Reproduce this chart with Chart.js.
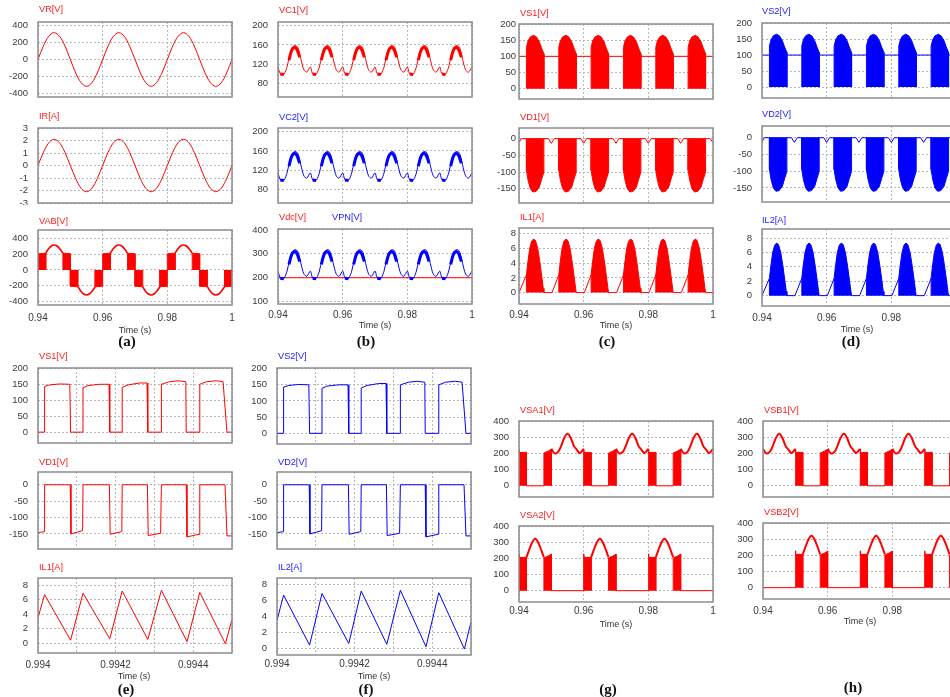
<!DOCTYPE html>
<html>
<head>
<meta charset="utf-8">
<script src="https://cdn.jsdelivr.net/npm/chart.js@4.4.0/dist/chart.umd.min.js"></script>
<style>
html, body { margin: 0; padding: 0; background: #fff; overflow: hidden; }
body { width: 950px; height: 697px; position: relative; }
canvas { position: absolute; }
.ttl { position: absolute; font: 9.2px "Liberation Sans", Arial, sans-serif; white-space: nowrap; line-height: 1; transform: translateY(-50%); }
.xt { position: absolute; font: 9px "Liberation Sans", Arial, sans-serif; color: #333; white-space: nowrap; line-height: 1; transform: translate(-50%, -50%); }
.pl { position: absolute; font: bold 15px "Liberation Serif", "Times New Roman", serif; color: #111; line-height: 1; transform: translate(-50%, -50%); }
</style>
</head>
<body>
<script>
// ---- tick values / labels
const tickA = [0.94, 0.96, 0.98, 1];
const tickLabA = ['0.94', '0.96', '0.98', '1'];
const tickE = [0.994, 0.9941, 0.9942, 0.9943, 0.9944, 0.9945];
const tickLabE = ['0.994', '', '0.9942', '', '0.9944', ''];
const yVR = [-400, -200, 0, 200, 400];
const yIR = [-3, -2, -1, 0, 1, 2, 3];
const yVC = [80, 120, 160, 200];
const yVPN = [100, 200, 300, 400];
const yVS = [0, 50, 100, 150, 200];
const yVD = [-150, -100, -50, 0];
const yIL = [0, 2, 4, 6, 8];
const yVSA = [0, 100, 200, 300, 400];

// ---- (a) grid voltage / current, 0.94 .. 1 s
const tSine = [0.94, 0.941667, 0.943333, 0.945, 0.946667, 0.948333,
  0.95, 0.951667, 0.953333, 0.955, 0.956667, 0.958333,
  0.96, 0.961667, 0.963333, 0.965, 0.966667, 0.968333,
  0.97, 0.971667, 0.973333, 0.975, 0.976667, 0.978333,
  0.98, 0.981667, 0.983333, 0.985, 0.986667, 0.988333,
  0.99, 0.991667, 0.993333, 0.995, 0.996667, 0.998333, 1.0];
const vrVals = [0, 158, 272, 315, 272, 158, 0, -158, -272, -315, -272, -158,
  0, 158, 272, 315, 272, 158, 0, -158, -272, -315, -272, -158,
  0, 158, 272, 315, 272, 158, 0, -158, -272, -315, -272, -158, 0];
const irVals = [0, 1.05, 1.82, 2.1, 1.82, 1.05, 0, -1.05, -1.82, -2.1, -1.82, -1.05,
  0, 1.05, 1.82, 2.1, 1.82, 1.05, 0, -1.05, -1.82, -2.1, -1.82, -1.05,
  0, 1.05, 1.82, 2.1, 1.82, 1.05, 0, -1.05, -1.82, -2.1, -1.82, -1.05, 0];

const vabBlocks = [
  [0.94, 0], [0.94, 205], [0.9424, 212], [0.9424, 0], [0.9424, null],
  [0.9477, 0], [0.9477, 212], [0.95, 205], [0.95, 0], [0.95, null],
  [0.95, 0], [0.95, -205], [0.9524, -212], [0.9524, 0], [0.9524, null],
  [0.9577, 0], [0.9577, -212], [0.96, -205], [0.96, 0], [0.96, null],
  [0.96, 0], [0.96, 205], [0.9624, 212], [0.9624, 0], [0.9624, null],
  [0.9677, 0], [0.9677, 212], [0.97, 205], [0.97, 0], [0.97, null],
  [0.97, 0], [0.97, -205], [0.9724, -212], [0.9724, 0], [0.9724, null],
  [0.9777, 0], [0.9777, -212], [0.98, -205], [0.98, 0], [0.98, null],
  [0.98, 0], [0.98, 205], [0.9824, 212], [0.9824, 0], [0.9824, null],
  [0.9877, 0], [0.9877, 212], [0.99, 205], [0.99, 0], [0.99, null],
  [0.99, 0], [0.99, -205], [0.9924, -212], [0.9924, 0], [0.9924, null],
  [0.9977, 0], [0.9977, -212], [1.0, -205], [1.0, 0]
];
const vabArcs = [
  [0.9424, 212], [0.9431, 258], [0.9440, 300], [0.9450, 316], [0.9460, 300], [0.9469, 258], [0.9477, 212], [0.9477, null],
  [0.9524, -212], [0.9531, -258], [0.9540, -300], [0.9550, -316], [0.9560, -300], [0.9569, -258], [0.9577, -212], [0.9577, null],
  [0.9624, 212], [0.9631, 258], [0.9640, 300], [0.9650, 316], [0.9660, 300], [0.9669, 258], [0.9677, 212], [0.9677, null],
  [0.9724, -212], [0.9731, -258], [0.9740, -300], [0.9750, -316], [0.9760, -300], [0.9769, -258], [0.9777, -212], [0.9777, null],
  [0.9824, 212], [0.9831, 258], [0.9840, 300], [0.9850, 316], [0.9860, 300], [0.9869, 258], [0.9877, 212], [0.9877, null],
  [0.9924, -212], [0.9931, -258], [0.9940, -300], [0.9950, -316], [0.9960, -300], [0.9969, -258], [0.9977, -212]
];

// ---- (b) capacitor voltages
const vcWave = [
  [0.9400, 114], [0.9406, 101], [0.9412, 98], [0.9419, 99], [0.9428, 114], [0.9436, 138], [0.9445, 155], [0.9455, 159], [0.9463, 152], [0.9471, 130], [0.9480, 108], [0.9489, 103],
  [0.9500, 114], [0.9506, 101], [0.9512, 98], [0.9519, 99], [0.9528, 114], [0.9536, 138], [0.9545, 155], [0.9555, 159], [0.9563, 152], [0.9571, 130], [0.9580, 108], [0.9589, 103],
  [0.9600, 114], [0.9606, 101], [0.9612, 98], [0.9619, 99], [0.9628, 114], [0.9636, 138], [0.9645, 155], [0.9655, 159], [0.9663, 152], [0.9671, 130], [0.9680, 108], [0.9689, 103],
  [0.9700, 114], [0.9706, 101], [0.9712, 98], [0.9719, 99], [0.9728, 114], [0.9736, 138], [0.9745, 155], [0.9755, 159], [0.9763, 152], [0.9771, 130], [0.9780, 108], [0.9789, 103],
  [0.9800, 114], [0.9806, 101], [0.9812, 98], [0.9819, 99], [0.9828, 114], [0.9836, 138], [0.9845, 155], [0.9855, 159], [0.9863, 152], [0.9871, 130], [0.9880, 108], [0.9889, 103],
  [0.9900, 114], [0.9906, 101], [0.9912, 98], [0.9919, 99], [0.9928, 114], [0.9936, 138], [0.9945, 155], [0.9955, 159], [0.9963, 152], [0.9971, 130], [0.9980, 108], [0.9989, 103],
  [1.0000, 114]
];
const vcRipple = [
  [0.9407, 99], [0.9418, 98], [0.9418, null], [0.9434, 128], [0.9442, 148], [0.9451, 155], [0.9459, 150], [0.9467, 134], [0.9467, null],
  [0.9507, 99], [0.9518, 98], [0.9518, null], [0.9534, 128], [0.9542, 148], [0.9551, 155], [0.9559, 150], [0.9567, 134], [0.9567, null],
  [0.9607, 99], [0.9618, 98], [0.9618, null], [0.9634, 128], [0.9642, 148], [0.9651, 155], [0.9659, 150], [0.9667, 134], [0.9667, null],
  [0.9707, 99], [0.9718, 98], [0.9718, null], [0.9734, 128], [0.9742, 148], [0.9751, 155], [0.9759, 150], [0.9767, 134], [0.9767, null],
  [0.9807, 99], [0.9818, 98], [0.9818, null], [0.9834, 128], [0.9842, 148], [0.9851, 155], [0.9859, 150], [0.9867, 134], [0.9867, null],
  [0.9907, 99], [0.9918, 98], [0.9918, null], [0.9934, 128], [0.9942, 148], [0.9951, 155], [0.9959, 150], [0.9967, 134]
];
const vpnWave = [
  [0.9400, 228], [0.9406, 202], [0.9412, 196], [0.9419, 198], [0.9428, 228], [0.9436, 276], [0.9445, 310], [0.9455, 318], [0.9463, 304], [0.9471, 260], [0.9480, 216], [0.9489, 206],
  [0.9500, 228], [0.9506, 202], [0.9512, 196], [0.9519, 198], [0.9528, 228], [0.9536, 276], [0.9545, 310], [0.9555, 318], [0.9563, 304], [0.9571, 260], [0.9580, 216], [0.9589, 206],
  [0.9600, 228], [0.9606, 202], [0.9612, 196], [0.9619, 198], [0.9628, 228], [0.9636, 276], [0.9645, 310], [0.9655, 318], [0.9663, 304], [0.9671, 260], [0.9680, 216], [0.9689, 206],
  [0.9700, 228], [0.9706, 202], [0.9712, 196], [0.9719, 198], [0.9728, 228], [0.9736, 276], [0.9745, 310], [0.9755, 318], [0.9763, 304], [0.9771, 260], [0.9780, 216], [0.9789, 206],
  [0.9800, 228], [0.9806, 202], [0.9812, 196], [0.9819, 198], [0.9828, 228], [0.9836, 276], [0.9845, 310], [0.9855, 318], [0.9863, 304], [0.9871, 260], [0.9880, 216], [0.9889, 206],
  [0.9900, 228], [0.9906, 202], [0.9912, 196], [0.9919, 198], [0.9928, 228], [0.9936, 276], [0.9945, 310], [0.9955, 318], [0.9963, 304], [0.9971, 260], [0.9980, 216], [0.9989, 206],
  [1.0000, 228]
];
const vpnRipple = [
  [0.9407, 198], [0.9418, 196], [0.9418, null], [0.9434, 256], [0.9442, 296], [0.9451, 310], [0.9459, 300], [0.9467, 268], [0.9467, null],
  [0.9507, 198], [0.9518, 196], [0.9518, null], [0.9534, 256], [0.9542, 296], [0.9551, 310], [0.9559, 300], [0.9567, 268], [0.9567, null],
  [0.9607, 198], [0.9618, 196], [0.9618, null], [0.9634, 256], [0.9642, 296], [0.9651, 310], [0.9659, 300], [0.9667, 268], [0.9667, null],
  [0.9707, 198], [0.9718, 196], [0.9718, null], [0.9734, 256], [0.9742, 296], [0.9751, 310], [0.9759, 300], [0.9767, 268], [0.9767, null],
  [0.9807, 198], [0.9818, 196], [0.9818, null], [0.9834, 256], [0.9842, 296], [0.9851, 310], [0.9859, 300], [0.9867, 268], [0.9867, null],
  [0.9907, 198], [0.9918, 196], [0.9918, null], [0.9934, 256], [0.9942, 296], [0.9951, 310], [0.9959, 300], [0.9967, 268]
];
const vdcLine = [[0.94, 200], [1.0, 200]];

// ---- (c)/(d) switch, diode, inductor
const vsLine = [[0.94, 100], [1.0, 100]];
const vsBlocks = [
  [0.9423, 0], [0.9423, 128], [0.9428, 148], [0.9435, 160], [0.9445, 165], [0.9454, 160], [0.9463, 145], [0.9470, 125], [0.9477, 108], [0.9477, 0], [0.9477, null],
  [0.9523, 0], [0.9523, 128], [0.9528, 148], [0.9535, 160], [0.9545, 165], [0.9554, 160], [0.9563, 145], [0.9570, 125], [0.9577, 108], [0.9577, 0], [0.9577, null],
  [0.9623, 0], [0.9623, 128], [0.9628, 148], [0.9635, 160], [0.9645, 165], [0.9654, 160], [0.9663, 145], [0.9670, 125], [0.9677, 108], [0.9677, 0], [0.9677, null],
  [0.9723, 0], [0.9723, 128], [0.9728, 148], [0.9735, 160], [0.9745, 165], [0.9754, 160], [0.9763, 145], [0.9770, 125], [0.9777, 108], [0.9777, 0], [0.9777, null],
  [0.9823, 0], [0.9823, 128], [0.9828, 148], [0.9835, 160], [0.9845, 165], [0.9854, 160], [0.9863, 145], [0.9870, 125], [0.9877, 108], [0.9877, 0], [0.9877, null],
  [0.9923, 0], [0.9923, 128], [0.9928, 148], [0.9935, 160], [0.9945, 165], [0.9954, 160], [0.9963, 145], [0.9970, 125], [0.9977, 108], [0.9977, 0]
];
const vdLine = [[0.9400, -12], [0.9407, 0], [0.9491, 0], [0.9500, -14], [0.9509, 0], [0.9591, 0], [0.9600, -14], [0.9609, 0],
  [0.9691, 0], [0.9700, -14], [0.9709, 0], [0.9791, 0], [0.9800, -14], [0.9809, 0], [0.9891, 0], [0.9900, -14], [0.9909, 0],
  [0.9991, 0], [1.0, -12]];
const vdBlocks = [
  [0.9423, 0], [0.9423, -95], [0.9428, -125], [0.9435, -150], [0.9443, -160], [0.9453, -158], [0.9463, -145], [0.9470, -122], [0.9477, -100], [0.9477, 0], [0.9477, null],
  [0.9523, 0], [0.9523, -95], [0.9528, -125], [0.9535, -150], [0.9543, -160], [0.9553, -158], [0.9563, -145], [0.9570, -122], [0.9577, -100], [0.9577, 0], [0.9577, null],
  [0.9623, 0], [0.9623, -95], [0.9628, -125], [0.9635, -150], [0.9643, -160], [0.9653, -158], [0.9663, -145], [0.9670, -122], [0.9677, -100], [0.9677, 0], [0.9677, null],
  [0.9723, 0], [0.9723, -95], [0.9728, -125], [0.9735, -150], [0.9743, -160], [0.9753, -158], [0.9763, -145], [0.9770, -122], [0.9777, -100], [0.9777, 0], [0.9777, null],
  [0.9823, 0], [0.9823, -95], [0.9828, -125], [0.9835, -150], [0.9843, -160], [0.9853, -158], [0.9863, -145], [0.9870, -122], [0.9877, -100], [0.9877, 0], [0.9877, null],
  [0.9923, 0], [0.9923, -95], [0.9928, -125], [0.9935, -150], [0.9943, -160], [0.9953, -158], [0.9963, -145], [0.9970, -122], [0.9977, -100], [0.9977, 0]
];
const ilLine = [[0.9400, 0], [0.9403, 0], [0.9423, 2.4], [0.9423, null], [0.9477, 0], [0.9502, 0], [0.9523, 2.4], [0.9523, null],
  [0.9577, 0], [0.9602, 0], [0.9623, 2.4], [0.9623, null], [0.9677, 0], [0.9702, 0], [0.9723, 2.4], [0.9723, null],
  [0.9777, 0], [0.9802, 0], [0.9823, 2.4], [0.9823, null], [0.9877, 0], [0.9902, 0], [0.9923, 2.4], [0.9923, null],
  [0.9977, 0], [1.0, 0]];
const ilBlocks = [
  [0.9423, 0], [0.9423, 2.4], [0.9427, 4.0], [0.9433, 6.0], [0.9439, 7.0], [0.9445, 7.3], [0.9451, 7.1], [0.9458, 6.0], [0.9465, 4.0], [0.9471, 2.0], [0.9475, 0.6], [0.9477, 0], [0.9477, null],
  [0.9523, 0], [0.9523, 2.4], [0.9527, 4.0], [0.9533, 6.0], [0.9539, 7.0], [0.9545, 7.3], [0.9551, 7.1], [0.9558, 6.0], [0.9565, 4.0], [0.9571, 2.0], [0.9575, 0.6], [0.9577, 0], [0.9577, null],
  [0.9623, 0], [0.9623, 2.4], [0.9627, 4.0], [0.9633, 6.0], [0.9639, 7.0], [0.9645, 7.3], [0.9651, 7.1], [0.9658, 6.0], [0.9665, 4.0], [0.9671, 2.0], [0.9675, 0.6], [0.9677, 0], [0.9677, null],
  [0.9723, 0], [0.9723, 2.4], [0.9727, 4.0], [0.9733, 6.0], [0.9739, 7.0], [0.9745, 7.3], [0.9751, 7.1], [0.9758, 6.0], [0.9765, 4.0], [0.9771, 2.0], [0.9775, 0.6], [0.9777, 0], [0.9777, null],
  [0.9823, 0], [0.9823, 2.4], [0.9827, 4.0], [0.9833, 6.0], [0.9839, 7.0], [0.9845, 7.3], [0.9851, 7.1], [0.9858, 6.0], [0.9865, 4.0], [0.9871, 2.0], [0.9875, 0.6], [0.9877, 0], [0.9877, null],
  [0.9923, 0], [0.9923, 2.4], [0.9927, 4.0], [0.9933, 6.0], [0.9939, 7.0], [0.9945, 7.3], [0.9951, 7.1], [0.9958, 6.0], [0.9965, 4.0], [0.9971, 2.0], [0.9975, 0.6], [0.9977, 0]
];

// ---- (e)/(f) zoom on a few switching periods
const vsZoom = [
  [0.994000, 0], [0.994017, 0], [0.994017, 143], [0.994030, 148], [0.994056, 151], [0.994082, 150], [0.994084, 0],
  [0.994116, 0], [0.994116, 139], [0.994129, 146], [0.994159, 150], [0.994183, 150], [0.994185, 0],
  [0.994217, 0], [0.994217, 140], [0.994232, 148], [0.994262, 154], [0.994281, 154], [0.994283, 0],
  [0.994318, 0], [0.994318, 150], [0.994339, 158], [0.994361, 161], [0.994381, 158], [0.994382, 0],
  [0.994417, 0], [0.994417, 150], [0.994434, 158], [0.994460, 161], [0.994477, 158], [0.994487, 0], [0.994500, 0]
];
const vdZoom = [
  [0.994000, -146], [0.994017, -143], [0.994017, 0], [0.994083, 0], [0.994085, -150], [0.994115, -140], [0.994116, 0],
  [0.994184, 0], [0.994186, -151], [0.994216, -143], [0.994217, 0], [0.994282, 0], [0.994284, -155], [0.994316, -148],
  [0.994318, 0], [0.994382, 0], [0.994384, -159], [0.994415, -151], [0.994417, 0], [0.994482, 0], [0.994487, -156], [0.994500, -156]
];
const ilZoom = [
  [0.994000, 3.5], [0.994017, 6.7], [0.994084, 0.4], [0.994116, 6.9], [0.994185, 0.6], [0.994217, 7.2],
  [0.994283, 0.5], [0.994318, 7.3], [0.994384, 0.2], [0.994417, 7.0], [0.994483, -0.1], [0.994500, 3.3]
];

// ---- (g)/(h) module voltages
const vsaBlocks = [
  [0.94, 0], [0.94, 228], [0.9402, 206], [0.9423, 206], [0.9423, 0], [0.9423, null],
  [0.9477, 0], [0.9477, 202], [0.9490, 214], [0.95, 226], [0.95, 0], [0.95, null],
  [0.96, 0], [0.96, 228], [0.9602, 206], [0.9623, 206], [0.9623, 0], [0.9623, null],
  [0.9677, 0], [0.9677, 202], [0.9690, 214], [0.97, 226], [0.97, 0], [0.97, null],
  [0.98, 0], [0.98, 228], [0.9802, 206], [0.9823, 206], [0.9823, 0], [0.9823, null],
  [0.9877, 0], [0.9877, 202], [0.9890, 214], [0.99, 226], [0.99, 0]
];
const vsa1Zero = [[0.9423, 0], [0.9477, 0], [0.9477, null], [0.9623, 0], [0.9677, 0], [0.9677, null], [0.9823, 0], [0.9877, 0]];
const vsa1Arc = [
  [0.9500, 228], [0.9510, 200], [0.9521, 210], [0.9530, 245], [0.9540, 295], [0.9550, 321], [0.9560, 295], [0.9570, 245], [0.9578, 225], [0.9588, 202], [0.9600, 228], [0.9600, null],
  [0.9700, 228], [0.9710, 200], [0.9721, 210], [0.9730, 245], [0.9740, 295], [0.9750, 321], [0.9760, 295], [0.9770, 245], [0.9778, 225], [0.9788, 202], [0.9800, 228], [0.9800, null],
  [0.9900, 228], [0.9910, 200], [0.9921, 210], [0.9930, 245], [0.9940, 295], [0.9950, 321], [0.9960, 295], [0.9970, 245], [0.9978, 225], [0.9988, 202], [1.0000, 228]
];
const vsa2Arc = [
  [0.9423, 206], [0.9430, 245], [0.9440, 295], [0.9450, 321], [0.9460, 295], [0.9470, 245], [0.9477, 206], [0.9477, null],
  [0.9623, 206], [0.9630, 245], [0.9640, 295], [0.9650, 321], [0.9660, 295], [0.9670, 245], [0.9677, 206], [0.9677, null],
  [0.9823, 206], [0.9830, 245], [0.9840, 295], [0.9850, 321], [0.9860, 295], [0.9870, 245], [0.9877, 206]
];
const vsa2Zero = [[0.95, 0], [0.96, 0], [0.96, null], [0.97, 0], [0.98, 0], [0.98, null], [0.99, 0], [1.0, 0]];

const vsbBlocks = [
  [0.95, 0], [0.95, 228], [0.9502, 206], [0.9523, 206], [0.9523, 0], [0.9523, null],
  [0.9577, 0], [0.9577, 202], [0.9590, 214], [0.96, 226], [0.96, 0], [0.96, null],
  [0.97, 0], [0.97, 228], [0.9702, 206], [0.9723, 206], [0.9723, 0], [0.9723, null],
  [0.9777, 0], [0.9777, 202], [0.9790, 214], [0.98, 226], [0.98, 0], [0.98, null],
  [0.99, 0], [0.99, 228], [0.9902, 206], [0.9923, 206], [0.9923, 0], [0.9923, null],
  [0.9977, 0], [0.9977, 202], [0.9990, 214], [1.0, 226], [1.0, 0]
];
const vsb1Zero = [[0.9523, 0], [0.9577, 0], [0.9577, null], [0.9723, 0], [0.9777, 0], [0.9777, null], [0.9923, 0], [0.9977, 0]];
const vsb1Arc = [
  [0.9400, 228], [0.9410, 200], [0.9421, 210], [0.9430, 245], [0.9440, 295], [0.9450, 321], [0.9460, 295], [0.9470, 245], [0.9478, 225], [0.9488, 202], [0.9500, 228], [0.9500, null],
  [0.9600, 228], [0.9610, 200], [0.9621, 210], [0.9630, 245], [0.9640, 295], [0.9650, 321], [0.9660, 295], [0.9670, 245], [0.9678, 225], [0.9688, 202], [0.9700, 228], [0.9700, null],
  [0.9800, 228], [0.9810, 200], [0.9821, 210], [0.9830, 245], [0.9840, 295], [0.9850, 321], [0.9860, 295], [0.9870, 245], [0.9878, 225], [0.9888, 202], [0.9900, 228]
];
const vsb2Arc = [
  [0.9523, 206], [0.9530, 245], [0.9540, 295], [0.9550, 321], [0.9560, 295], [0.9570, 245], [0.9577, 206], [0.9577, null],
  [0.9723, 206], [0.9730, 245], [0.9740, 295], [0.9750, 321], [0.9760, 295], [0.9770, 245], [0.9777, 206], [0.9777, null],
  [0.9923, 206], [0.9930, 245], [0.9940, 295], [0.9950, 321], [0.9960, 295], [0.9970, 245], [0.9977, 206]
];
const vsb2Zero = [[0.94, 0], [0.95, 0], [0.95, null], [0.96, 0], [0.97, 0], [0.97, null], [0.98, 0], [0.99, 0]];

// ---- drawing
const RED = '#ff0000', BLUE = '#0000ff';
const TXT = '#3a3a3a';
const FONT = '"Liberation Sans", Arial, sans-serif';

const frame = {
  id: 'frame',
  afterDraw(chart) {
    const a = chart.chartArea, ctx = chart.ctx;
    ctx.save();
    ctx.strokeStyle = '#8c8c8c';
    ctx.lineWidth = 1.5;
    ctx.strokeRect(a.left, a.top, a.right - a.left, a.bottom - a.top);
    ctx.restore();
  }
};

function pts(a) {
  return a.map(p => ({x: p[0], y: p[1]}));
}
function trace(a, color, width, tension) {
  return {data: pts(a), borderColor: color, borderWidth: width, tension: tension || 0,
    fill: false, pointRadius: 0, spanGaps: false};
}
function blocks(a, color) {
  return {data: pts(a), borderColor: color, backgroundColor: color, borderWidth: 1, tension: 0,
    fill: 'origin', pointRadius: 0, spanGaps: false};
}

function plot(o) {
  const yW = 46, padT = 8, padR = 10, xH = o.xl ? 26 : 2;
  const cv = document.createElement('canvas');
  cv.width = Math.round(yW + o.w + padR);
  cv.height = Math.round(padT + o.h + xH);
  cv.style.left = (o.l - yW) + 'px';
  cv.style.top = (o.t - padT) + 'px';
  document.body.appendChild(cv);
  const grid = {color: '#b8b8b8', lineWidth: 1, drawTicks: false};
  new Chart(cv, {
    type: 'line',
    data: {datasets: o.sets},
    options: {
      responsive: false,
      animation: false,
      events: [],
      layout: {padding: {top: padT, right: padR, bottom: 0, left: 0}},
      plugins: {legend: {display: false}, tooltip: {enabled: false}},
      scales: {
        x: {
          type: 'linear', min: o.x[0], max: o.x[1],
          afterBuildTicks: s => { s.ticks = o.xt.map(v => ({value: v})); },
          afterFit: s => { s.height = xH; s.paddingLeft = 0; s.paddingRight = 0; },
          grid: grid,
          border: {display: false, dash: [2, 2]},
          ticks: {display: !!o.xl, autoSkip: false, maxRotation: 0, padding: o.xPad || 6,
            color: TXT, font: {family: FONT, size: 10},
            callback: (v, i) => (o.xl ? o.xl[i] : '')}
        },
        y: {
          type: 'linear', min: o.y[0], max: o.y[1],
          afterBuildTicks: s => { s.ticks = o.yt.map(v => ({value: v})); },
          afterFit: s => { s.width = yW; s.paddingTop = 0; s.paddingBottom = 0; },
          grid: grid,
          border: {display: false, dash: [2, 2]},
          ticks: {autoSkip: false, padding: o.gap, color: TXT, font: {family: FONT, size: 9.5},
            callback: v => String(v)}
        }
      }
    },
    plugins: [frame]
  });
}

function text(cls, s, x, y, color) {
  const d = document.createElement('div');
  d.className = cls;
  d.textContent = s;
  d.style.left = x + 'px';
  d.style.top = y + 'px';
  if (color) d.style.color = color;
  document.body.appendChild(d);
}

const zip = (t, v) => t.map((x, i) => [x, v[i]]);
const xA = [0.94, 1.0], xE = [0.994, 0.9945];
const TR = '#ff1a1a', TB = '#1a1aff';

// (a)
plot({l: 38, t: 22, w: 194, h: 75, y: [-440, 440], yt: yVR, x: xA, xt: tickA, gap: 10,
  sets: [trace(zip(tSine, vrVals), RED, 1, 0.35)]});
plot({l: 38, t: 128, w: 194, h: 75, y: [-3, 3], yt: yIR, x: xA, xt: tickA, gap: 10,
  sets: [trace(zip(tSine, irVals), RED, 1, 0.35)]});
plot({l: 38, t: 230, w: 194, h: 75, y: [-442, 505], yt: yVR, x: xA, xt: tickA, xl: tickLabA, xPad: 7, gap: 10,
  sets: [blocks(vabBlocks, RED), trace(vabArcs, RED, 1.6, 0.35)]});
text('ttl', 'VR[V]', 39, 10, TR);
text('ttl', 'IR[A]', 39, 117, TR);
text('ttl', 'VAB[V]', 39, 222, TR);
text('xt', 'Time (s)', 135, 330);
text('pl', '(a)', 127, 341);

// (b)
plot({l: 278, t: 22, w: 194, h: 75, y: [51, 208], yt: yVC, x: xA, xt: tickA, gap: 10,
  sets: [trace(vcRipple, RED, 3, 0.3), trace(vcWave, RED, 1, 0.3)]});
plot({l: 278, t: 128, w: 194, h: 75, y: [51, 208], yt: yVC, x: xA, xt: tickA, gap: 10,
  sets: [trace(vcRipple, BLUE, 3, 0.3), trace(vcWave, BLUE, 1, 0.3)]});
plot({l: 278, t: 229, w: 194, h: 75, y: [90, 404], yt: yVPN, x: xA, xt: tickA, xl: tickLabA, xPad: 5, gap: 10,
  sets: [trace(vpnRipple, BLUE, 3, 0.3), trace(vpnWave, BLUE, 1, 0.3), trace(vdcLine, RED, 1)]});
text('ttl', 'VC1[V]', 279, 11, TR);
text('ttl', 'VC2[V]', 279, 118, TB);
text('ttl', 'Vdc[V]', 279, 218, TR);
text('ttl', 'VPN[V]', 332, 218, TB);
text('xt', 'Time (s)', 375, 325);
text('pl', '(b)', 366, 341);

// (c)
plot({l: 519, t: 24, w: 194, h: 75, y: [-32, 200], yt: yVS, x: xA, xt: tickA, gap: 3,
  sets: [blocks(vsBlocks, RED), trace(vsLine, RED, 1)]});
plot({l: 519, t: 128, w: 194, h: 75, y: [-193, 32], yt: yVD, x: xA, xt: tickA, gap: 3,
  sets: [blocks(vdBlocks, RED), trace(vdLine, RED, 1)]});
plot({l: 519, t: 228, w: 194, h: 76, y: [-1.55, 8.8], yt: yIL, x: xA, xt: tickA, xl: tickLabA, xPad: 5, gap: 3,
  sets: [blocks(ilBlocks, RED), trace(ilLine, RED, 1)]});
text('ttl', 'VS1[V]', 520, 14, TR);
text('ttl', 'VD1[V]', 520, 118, TR);
text('ttl', 'IL1[A]', 520, 218, TR);
text('xt', 'Time (s)', 616, 325);
text('pl', '(c)', 607, 341);

// (d)
plot({l: 762, t: 23, w: 193.5, h: 75, y: [-34, 200], yt: yVS, x: xA, xt: tickA, gap: 10,
  sets: [blocks(vsBlocks, BLUE), trace(vsLine, BLUE, 1)]});
plot({l: 762, t: 126, w: 193.5, h: 76, y: [-192, 35], yt: yVD, x: xA, xt: tickA, gap: 10,
  sets: [blocks(vdBlocks, BLUE), trace(vdLine, BLUE, 1)]});
plot({l: 762, t: 229, w: 193.5, h: 77, y: [-1.44, 9.26], yt: yIL, x: xA, xt: tickA, xl: tickLabA, xPad: 6, gap: 10,
  sets: [blocks(ilBlocks, BLUE), trace(ilLine, BLUE, 1)]});
text('ttl', 'VS2[V]', 762, 12, TB);
text('ttl', 'VD2[V]', 762, 115, TB);
text('ttl', 'IL2[A]', 762, 221, TB);
text('xt', 'Time (s)', 857, 329);
text('pl', '(d)', 851, 341);

// (e)
plot({l: 38, t: 368, w: 194, h: 75, y: [-34, 201], yt: yVS, x: xE, xt: tickE, gap: 10,
  sets: [trace(vsZoom, RED, 1)]});
plot({l: 38, t: 472, w: 194, h: 77, y: [-196, 39], yt: yVD, x: xE, xt: tickE, gap: 10,
  sets: [trace(vdZoom, RED, 1)]});
plot({l: 38, t: 578, w: 194, h: 75, y: [-1.37, 9], yt: yIL, x: xE, xt: tickE, xl: tickLabE, xPad: 6, gap: 10,
  sets: [trace(ilZoom, RED, 1)]});
text('ttl', 'VS1[V]', 39, 357, TR);
text('ttl', 'VD1[V]', 39, 463, TR);
text('ttl', 'IL1[A]', 39, 568, TR);
text('xt', 'Time (s)', 134, 676);
text('pl', '(e)', 126, 689);

// (f)
plot({l: 277, t: 368, w: 194, h: 76, y: [-33, 202], yt: yVS, x: xE, xt: tickE, gap: 10,
  sets: [trace(vsZoom, BLUE, 1)]});
plot({l: 277, t: 472, w: 194, h: 77, y: [-196, 39], yt: yVD, x: xE, xt: tickE, gap: 10,
  sets: [trace(vdZoom, BLUE, 1)]});
plot({l: 277, t: 578, w: 194, h: 77, y: [-0.85, 8.85], yt: yIL, x: xE, xt: tickE, xl: tickLabE, xPad: 3, gap: 10,
  sets: [trace(ilZoom, BLUE, 1)]});
text('ttl', 'VS2[V]', 278, 357, TB);
text('ttl', 'VD2[V]', 278, 463, TB);
text('ttl', 'IL2[A]', 278, 568, TB);
text('xt', 'Time (s)', 374, 676);
text('pl', '(f)', 366, 689);

// (g)
plot({l: 519, t: 421, w: 194, h: 76, y: [-69, 400], yt: yVSA, x: xA, xt: tickA, gap: 10,
  sets: [blocks(vsaBlocks, RED), trace(vsa1Arc, RED, 2, 0.35), trace(vsa1Zero, RED, 1)]});
plot({l: 519, t: 526, w: 194, h: 76, y: [-70, 400], yt: yVSA, x: xA, xt: tickA, xl: tickLabA, xPad: 3, gap: 10,
  sets: [blocks(vsaBlocks, RED), trace(vsa2Arc, RED, 2, 0.35), trace(vsa2Zero, RED, 1)]});
text('ttl', 'VSA1[V]', 520, 411, TR);
text('ttl', 'VSA2[V]', 520, 516, TR);
text('xt', 'Time (s)', 616, 624);
text('pl', '(g)', 608, 689);

// (h)
plot({l: 763, t: 421, w: 193.5, h: 76, y: [-69, 400], yt: yVSA, x: xA, xt: tickA, gap: 10,
  sets: [blocks(vsbBlocks, RED), trace(vsb1Arc, RED, 2, 0.35), trace(vsb1Zero, RED, 1)]});
plot({l: 763, t: 523, w: 193.5, h: 76, y: [-70, 400], yt: yVSA, x: xA, xt: tickA, xl: tickLabA, xPad: 6, gap: 10,
  sets: [blocks(vsbBlocks, RED), trace(vsb2Arc, RED, 2, 0.35), trace(vsb2Zero, RED, 1)]});
text('ttl', 'VSB1[V]', 764, 411, TR);
text('ttl', 'VSB2[V]', 764, 513, TR);
text('xt', 'Time (s)', 860, 621);
text('pl', '(h)', 853, 687);
</script>
</body>
</html>
